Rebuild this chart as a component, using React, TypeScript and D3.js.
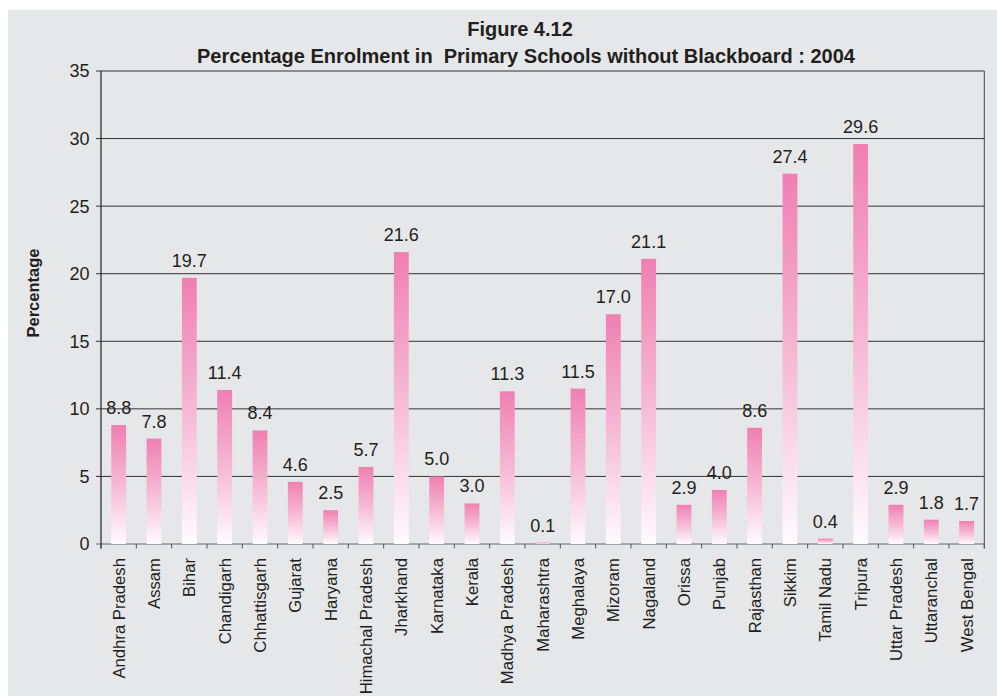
import React from "react";
import * as d3 from "d3";

const categories = [
  "Andhra Pradesh", "Assam", "Bihar", "Chandigarh", "Chhattisgarh", "Gujarat", "Haryana",
  "Himachal Pradesh", "Jharkhand", "Karnataka", "Kerala", "Madhya Pradesh", "Maharashtra",
  "Meghalaya", "Mizoram", "Nagaland", "Orissa", "Punjab", "Rajasthan", "Sikkim", "Tamil Nadu",
  "Tripura", "Uttar Pradesh", "Uttaranchal", "West Bengal",
];
const values = [
  8.8, 7.8, 19.7, 11.4, 8.4, 4.6, 2.5, 5.7, 21.6, 5.0, 3.0, 11.3, 0.1,
  11.5, 17.0, 21.1, 2.9, 4.0, 8.6, 27.4, 0.4, 29.6, 2.9, 1.8, 1.7,
];
const yTicks = [0, 5, 10, 15, 20, 25, 30, 35];
const titleLines = ["Figure 4.12", "Percentage Enrolment in  Primary Schools without Blackboard : 2004"];
const yLabel = "Percentage";

export default function App() {
  const W = 997, H = 696;
  const left = 101, right = 984.3, top = 71, bottom = 544;
  const x = d3.scaleBand<string>().domain(categories).range([left, right]).paddingInner(0).paddingOuter(0);
  const y = d3.scaleLinear().domain([0, 35]).range([bottom, top]);
  const bw = x.bandwidth() * 0.42;
  const font = "'Liberation Sans', Arial, Helvetica, sans-serif";
  const ink = "#231f20";
  const boundaries = categories.map((c) => x(c)!).concat([right]);

  return (
    <svg width={W} height={H} style={{ position: "absolute", left: 0, top: 0 }} fontFamily={font}>
      <defs>
        <linearGradient id="barGrad" x1="0" y1="0" x2="0" y2="1">
          <stop offset="0%" stopColor="#f07fb2" />
          <stop offset="50%" stopColor="#f6b9d4" />
          <stop offset="100%" stopColor="#fffbfd" />
        </linearGradient>
      </defs>
      <rect x={8} y={10} width={W - 8} height={H - 10} fill="#e6e7e9" />
      <text x={520} y={36} textAnchor="middle" fontSize={20} fontWeight="bold" fill={ink}>{titleLines[0]}</text>
      <text x={526} y={63} textAnchor="middle" fontSize={20} fontWeight="bold" fill={ink} style={{ whiteSpace: "pre" }}>{titleLines[1]}</text>

      {/* gridlines */}
      {yTicks.map((t) => (
        <line key={"g" + t} x1={left - 5} x2={right} y1={y(t)} y2={y(t)}
          stroke={t === 0 ? "#666" : "#333"} strokeWidth={1} />
      ))}
      {/* axes */}
      <line x1={left} x2={left} y1={top} y2={bottom + 4.5} stroke="#222" strokeWidth={1.2} />
      <line x1={right} x2={right} y1={top} y2={bottom + 4.5} stroke="#444" strokeWidth={1} />
      {boundaries.map((bx, i) => (
        <line key={"xt" + i} x1={bx} x2={bx} y1={bottom} y2={bottom + 4.5} stroke="#555" strokeWidth={1} />
      ))}
      {yTicks.map((t) => (
        <text key={"yl" + t} x={89.5} y={y(t)} dy="0.36em" textAnchor="end" fontSize={18} fill={ink}>{t}</text>
      ))}
      <text transform={`translate(33,293) rotate(-90)`} dy="0.36em" textAnchor="middle" fontSize={16.5} fontWeight="bold" fill={ink}>{yLabel}</text>

      {/* bars */}
      {categories.map((c, i) => {
        const cx = x(c)! + x.bandwidth() / 2;
        const v = values[i];
        const h = Math.max(bottom - y(v), 1);
        return (
          <g key={c}>
            <rect x={cx - bw / 2} y={bottom - h} width={bw} height={h} fill="url(#barGrad)" />
            <text x={cx} y={y(v) - 11} textAnchor="middle" fontSize={18} fill={ink}>{v.toFixed(1)}</text>
            <text transform={`translate(${cx},${bottom + 14}) rotate(-90)`} dy="0.36em" textAnchor="end" fontSize={16.7} fill={ink}>{c}</text>
          </g>
        );
      })}
    </svg>
  );
}
